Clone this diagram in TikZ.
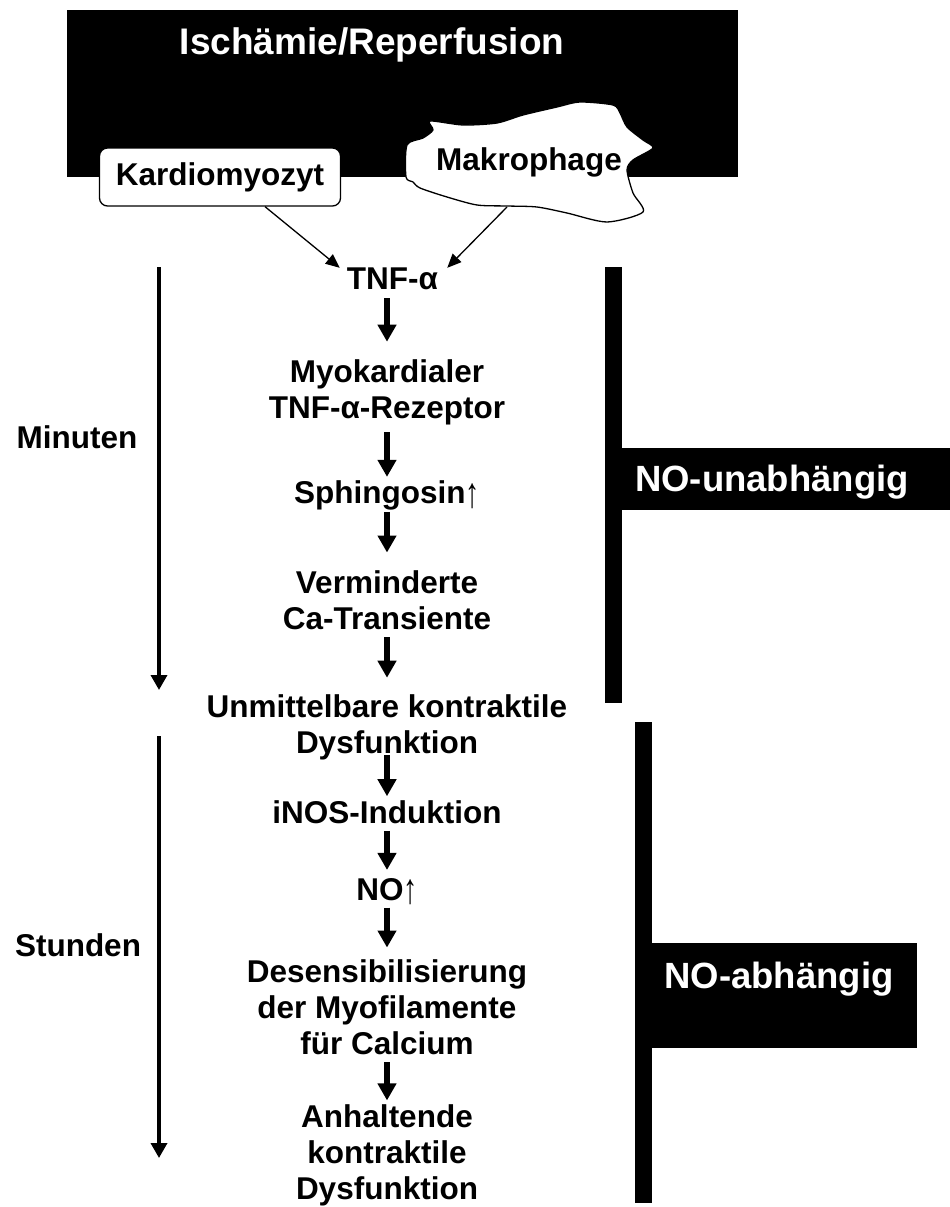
\documentclass[tikz,border=0pt]{standalone}
\usepackage{fontspec}
\usepackage{graphicx}
\setmainfont{Liberation Sans}
\usetikzlibrary{positioning,arrows.meta}
\newcommand{\hoch}{\smash{\raisebox{-0.1em}{\scalebox{0.9}[1.35]{\mdseries ↑}}}}

\begin{document}
\begin{tikzpicture}[x=1pt,y=-1pt,on grid,
	every node/.style={font=\bfseries\fontsize{31.5}{36}\selectfont,align=center,inner sep=0pt},
	flow/.style={-{Triangle[length=17pt,width=18pt]},line width=6pt,shorten >=5pt,shorten <=7pt},
	cellarrow/.style={-{Triangle[length=14pt,width=12pt]},line width=1.3pt},
	timearrow/.style={-{Triangle[length=15pt,width=16pt]},line width=3.5pt},
	whitelabel/.style={text=white,font=\bfseries\fontsize{36.5}{42}\selectfont}] 
			\useasboundingbox (0,0) rectangle (950,1207);
			% Ischaemie/Reperfusion
			\fill (67,10) rectangle (738,177);
			\node[text=white,font=\bfseries\fontsize{37}{44}\selectfont] (isch) at (372,45) {Ischämie/Reperfusion};
			\node[draw,fill=white,rounded corners=8pt,line width=1.3pt,minimum width=241pt,minimum height=58pt] (kard) at (220,177) {Kardiomyozyt};
			\draw[fill=white,line width=1.3pt] plot[smooth cycle,tension=0.45] coordinates {(430,121) (463,125) (497,123) (523,115) (557,107) (580,102) (613,105) (620,113) (627,127) (643,140) (653,148) (633,160) (627,170) (633,193) (643,212) (607,222) (567,213) (537,207) (507,206) (477,205) (447,197) (420,188) (413,182) (406,177) (407,145) (423,138) (433,130)};
			\node (mak) at (529,162) {Makrophage};
			\coordinate (mak-out) at (507,207);
			% Kaskade
			\node (rez) at (387,392.6) {Myokardialer\\TNF-α-Rezeptor};
			\node (tnf) [above=113.6pt of rez,xshift=5.5pt] {TNF-α};
			\node (sph) [below=103.2pt of rez] {Sphingosin\hoch};
			\node (ca) [below=104.5pt of sph] {Verminderte\\Ca-Transiente};
			\node (dys) [below=127.3pt of ca] {Unmittelbare kontraktile\\Dysfunktion};
			\node (inos) [below=84.4pt of dys] {iNOS-Induktion};
			\node (no) [below=77.3pt of inos] {NO\hoch};
			\node (des) [below=118pt of no] {Desensibilisierung\\der Myofilamente\\für Calcium};
			\node (anh) [below=148pt of des] {Anhaltende\\kontraktile\\Dysfunktion};
			\draw[cellarrow] ([xshift=45pt]kard.south) -- ([xshift=-7pt]tnf.north west);
			\draw[cellarrow] (mak-out) -- ([xshift=9pt]tnf.north east);
			\path[flow] 
			(tnf.south -| rez) edge [shorten <=8pt,shorten >=18pt] (rez)
			(rez) edge [shorten >=4pt] (sph)
			(sph) edge [shorten <=1pt,shorten >=18pt] (ca)
			(ca) edge [shorten >=17pt] (dys)
			(dys) edge [shorten <=-5pt,shorten >=4pt] (inos)
			(inos) edge [shorten >=8pt] (no)
			(no) edge [shorten >=12pt] (des)
			(des) edge [shorten >=4pt] (anh);
			% Zeitachse
			\node (min) at (77,437) {Minuten};
			\node (std) at (78,945) {Stunden};
			\coordinate (m0) at (159,267);
			\coordinate (m1) at (159,690);
			\coordinate (s0) at (159,736);
			\coordinate (s1) at (159,1158);
			\draw[timearrow] (m0) -- (m1);
			\draw[timearrow] (s0) -- (s1);
			% NO-Balken
			\fill (605,267) rectangle (622,703);
			\fill (622,448) rectangle (950,510);
			\node[whitelabel] (nounab) at (772,482) {NO-unabhängig};
			\fill (635,722) rectangle (652,1203);
			\fill (652,943) rectangle (917,1048);
			\node[whitelabel] (noab) at (779,979) {NO-abhängig};
		\end{tikzpicture}
\end{document}
